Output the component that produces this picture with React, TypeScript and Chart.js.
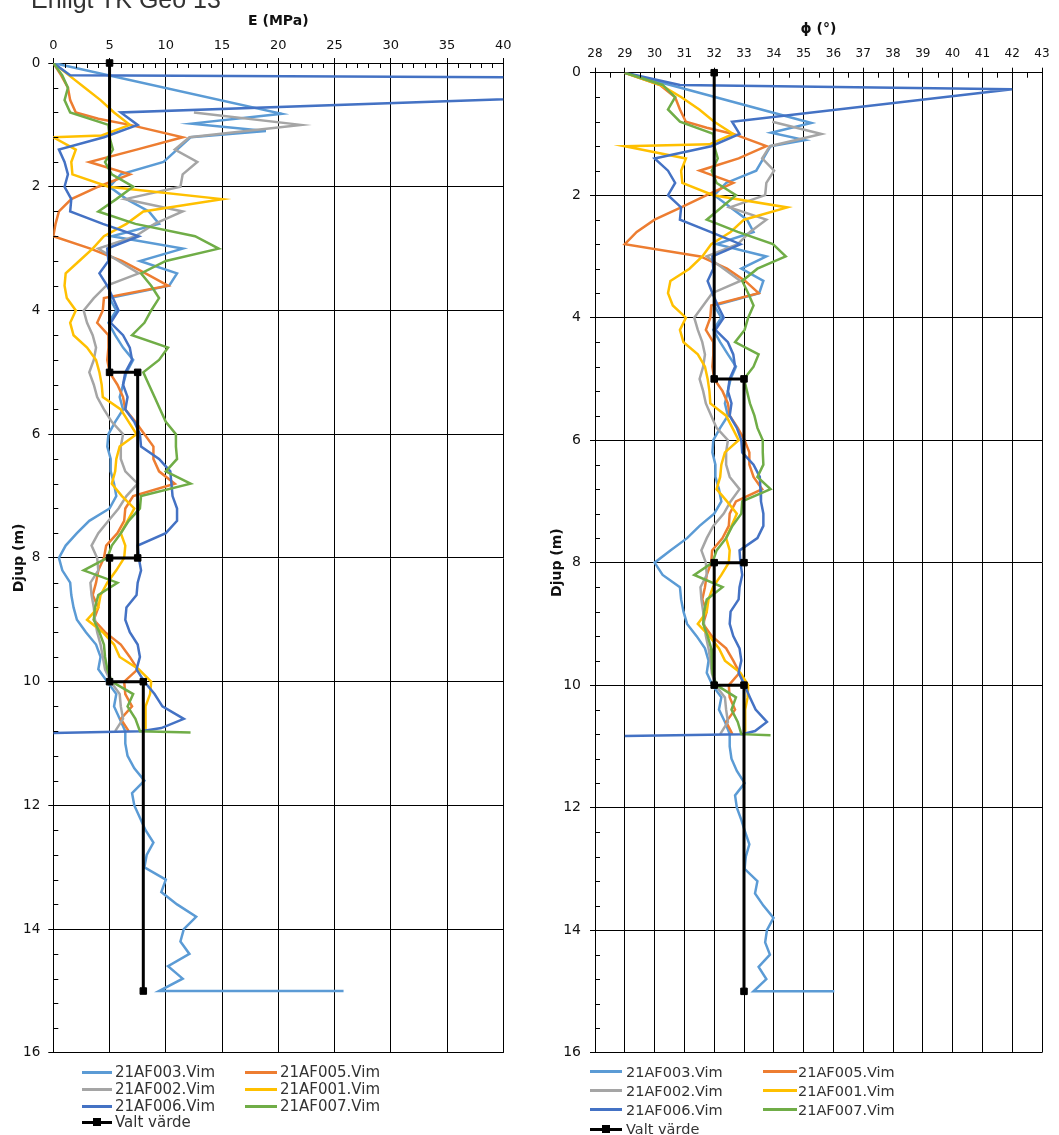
import React, { useEffect, useRef } from 'react';
import { Chart, registerables } from 'chart.js';

Chart.register(...registerables);
Chart.defaults.font.family = "'DejaVu Sans', Verdana, sans-serif";

// ---------------- data ----------------
const HEADING = 'Enligt TK Geo 13';

// 21AF003.Vim (light blue)
const DEPTH_003 = [0, 0.82, 0.98, 1.1, 1.2, 1.4, 1.6, 1.8, 2, 2.2, 2.4, 2.6, 2.8, 3, 3.2, 3.4, 3.6, 3.8, 4, 4.2, 4.4, 4.6, 4.8, 5, 5.2, 5.4, 5.6, 5.8, 6, 6.2, 6.4, 6.6, 6.8, 7, 7.2, 7.4, 7.6, 7.8, 8, 8.2, 8.4, 8.6, 8.8, 9, 9.2, 9.4, 9.6, 9.8, 10, 10.2, 10.4, 10.6, 10.8, 11, 11.2, 11.4, 11.6, 11.8, 12, 12.2, 12.4, 12.6, 12.8, 13, 13.2, 13.4, 13.6, 13.8, 14, 14.2, 14.4, 14.6, 14.8, 15, 15];
const E_003 = [0, 20.3, 12.3, 18.9, 12.2, 11.0, 9.8, 6.0, 5.0, 6.5, 8.5, 9.4, 5.2, 11.5, 7.7, 11.0, 10.3, 5.0, 5.6, 4.9, 5.5, 6.2, 7.1, 6.5, 6.2, 5.9, 6.2, 5.5, 4.9, 4.8, 5.1, 5.1, 5.4, 5.6, 5.0, 3.2, 2.1, 1.1, 0.5, 0.8, 1.5, 1.6, 1.8, 2.1, 2.9, 3.8, 4.2, 4.0, 4.8, 5.6, 5.4, 5.9, 6.4, 6.4, 6.6, 7.2, 8.1, 7.0, 7.2, 7.7, 8.2, 8.9, 8.3, 8.1, 10.0, 9.6, 11.0, 12.7, 11.6, 11.3, 12.1, 10.2, 11.5, 9.4, 25.8];
const PHI_003 = [29, 35.26, 33.91, 35.04, 33.89, 33.65, 33.41, 32.4, 32.0, 32.55, 33.1, 33.32, 32.08, 33.75, 32.91, 33.65, 33.51, 32.0, 32.24, 31.97, 32.2, 32.46, 32.73, 32.55, 32.46, 32.36, 32.46, 32.2, 31.97, 31.94, 32.04, 32.04, 32.16, 32.24, 32.0, 31.51, 31.09, 30.53, 30.0, 30.27, 30.85, 30.89, 30.97, 31.09, 31.41, 31.69, 31.81, 31.75, 31.94, 32.24, 32.16, 32.36, 32.52, 32.52, 32.58, 32.76, 33.02, 32.7, 32.76, 32.91, 33.04, 33.18, 33.06, 33.02, 33.45, 33.37, 33.65, 33.99, 33.77, 33.71, 33.87, 33.49, 33.75, 33.32, 36.03];

// 21AF005.Vim (orange)
const DEPTH_005 = [0, 0.2, 0.4, 0.6, 0.8, 0.9, 1, 1.2, 1.4, 1.6, 1.8, 2, 2.2, 2.4, 2.6, 2.8, 3, 3.2, 3.4, 3.6, 3.8, 4, 4.2, 4.4, 4.6, 4.8, 5, 5.2, 5.4, 5.6, 5.8, 6, 6.2, 6.4, 6.6, 6.8, 7, 7.2, 7.4, 7.6, 7.8, 8, 8.2, 8.4, 8.6, 8.8, 9, 9.2, 9.4, 9.6, 9.8, 10, 10.2, 10.4, 10.6, 10.8];
const E_005 = [0, 0.7, 1.3, 1.5, 2.0, 4.0, 6.8, 11.5, 7.4, 3.2, 6.8, 4.0, 1.6, 0.5, 0.2, 0, 3.3, 6.1, 8.2, 10.2, 4.5, 4.4, 3.9, 4.9, 4.9, 4.8, 5.0, 5.7, 6.2, 6.4, 7.3, 8.1, 8.9, 8.9, 9.4, 10.8, 7.1, 6.4, 6.3, 5.7, 4.7, 4.5, 4.0, 3.8, 3.5, 4.0, 3.6, 4.6, 6.0, 6.8, 7.5, 6.3, 6.4, 7.0, 6.0, 6.7];
const PHI_005 = [29, 30.18, 30.69, 30.85, 31.05, 31.75, 32.64, 33.75, 32.82, 31.51, 32.64, 31.75, 30.89, 30.0, 29.4, 29, 31.54, 32.43, 33.04, 33.49, 31.9, 31.87, 31.72, 31.97, 31.97, 31.94, 32.0, 32.28, 32.46, 32.52, 32.79, 33.02, 33.18, 33.18, 33.32, 33.61, 32.73, 32.52, 32.49, 32.28, 31.93, 31.9, 31.75, 31.69, 31.6, 31.75, 31.63, 31.92, 32.4, 32.64, 32.85, 32.49, 32.52, 32.7, 32.4, 32.61];

// 21AF002.Vim (grey)
const DEPTH_002 = [0.8, 1, 1.2, 1.4, 1.6, 1.8, 2, 2.2, 2.4, 2.6, 2.8, 3, 3.2, 3.4, 3.6, 3.8, 4, 4.2, 4.4, 4.6, 4.8, 5, 5.2, 5.4, 5.6, 5.8, 6, 6.2, 6.4, 6.6, 6.8, 7, 7.2, 7.4, 7.6, 7.8, 8, 8.2, 8.4, 8.6, 8.8, 9, 9.2, 9.4, 9.6, 9.8, 10, 10.2, 10.4, 10.6, 10.8];
const E_002 = [12.5, 22.0, 12.1, 10.8, 12.8, 11.5, 11.3, 6.4, 11.5, 9.0, 7.3, 4.0, 5.8, 7.6, 4.7, 3.6, 2.7, 3.0, 3.5, 3.8, 3.6, 3.2, 3.6, 3.9, 4.5, 5.2, 6.2, 6.0, 6.0, 6.4, 7.5, 6.5, 5.8, 4.9, 4.0, 3.4, 3.9, 4.0, 3.3, 3.4, 3.6, 3.7, 3.9, 4.2, 4.4, 4.6, 5.1, 5.9, 6.0, 6.2, 5.5];
const PHI_002 = [33.95, 35.6, 33.87, 33.61, 34.01, 33.75, 33.71, 32.52, 33.75, 33.2, 32.79, 31.75, 32.32, 32.88, 31.93, 31.63, 31.33, 31.45, 31.6, 31.69, 31.63, 31.51, 31.63, 31.72, 31.9, 32.08, 32.46, 32.4, 32.4, 32.52, 32.85, 32.55, 32.32, 31.97, 31.75, 31.57, 31.72, 31.75, 31.54, 31.57, 31.63, 31.66, 31.72, 31.81, 31.87, 31.92, 32.04, 32.36, 32.4, 32.46, 32.2];

// 21AF001.Vim (yellow)
const DEPTH_001 = [0, 0.2, 0.4, 0.6, 0.8, 1, 1.17, 1.2, 1.4, 1.6, 1.8, 2, 2.2, 2.4, 2.6, 2.8, 3, 3.2, 3.4, 3.6, 3.8, 4, 4.2, 4.4, 4.6, 4.8, 5, 5.2, 5.4, 5.6, 5.8, 6, 6.2, 6.4, 6.6, 6.8, 7, 7.2, 7.4, 7.6, 7.8, 8, 8.2, 8.4, 8.6, 8.8, 9, 9.2, 9.4, 9.6, 9.8, 10, 10.2, 10.4, 10.6, 10.8];
const E_001 = [0, 1.4, 2.8, 4.2, 5.4, 6.8, 4.3, 0, 2.0, 1.6, 1.7, 4.9, 15.0, 8.0, 6.5, 4.5, 3.5, 2.3, 1.1, 1.0, 1.2, 2.0, 1.5, 1.8, 3.0, 3.8, 4.1, 4.3, 4.4, 6.0, 6.7, 7.4, 5.9, 5.6, 5.5, 5.2, 6.1, 7.2, 6.6, 6.0, 6.4, 6.3, 5.6, 4.8, 4.2, 4.0, 3.0, 4.4, 5.4, 5.9, 7.6, 8.7, 8.6, 8.2, 8.2, 8.2];
const PHI_001 = [29.0, 30.2, 30.9, 31.5, 32.0, 32.64, 31.84, 29.0, 31.05, 30.89, 30.93, 31.97, 34.45, 33.0, 32.55, 31.9, 31.6, 31.17, 30.53, 30.45, 30.61, 31.05, 30.85, 30.97, 31.45, 31.69, 31.78, 31.84, 31.87, 32.4, 32.61, 32.82, 32.36, 32.24, 32.2, 32.08, 32.43, 32.76, 32.58, 32.4, 32.52, 32.49, 32.24, 31.96, 31.81, 31.75, 31.45, 31.84, 32.16, 32.36, 32.88, 33.14, 33.12, 33.04, 33.04, 33.04];

// 21AF006.Vim (dark blue)
const DEPTH_006 = [0, 0.2, 0.27, 0.8, 1, 1.2, 1.4, 1.6, 1.8, 2, 2.2, 2.4, 2.6, 2.8, 3, 3.2, 3.4, 3.6, 3.8, 4, 4.2, 4.4, 4.6, 4.8, 5, 5.2, 5.4, 5.6, 5.8, 6, 6.2, 6.4, 6.6, 6.8, 7, 7.2, 7.4, 7.6, 7.8, 8, 8.2, 8.4, 8.6, 8.8, 9, 9.2, 9.4, 9.6, 9.8, 10, 10.2, 10.4, 10.6, 10.75, 10.8, 10.83];
const E_006 = [0, 1.5, 90, 6.0, 7.5, 4.5, 0.5, 1.0, 1.3, 1.0, 1.6, 1.5, 4.4, 7.6, 4.8, 4.9, 4.1, 4.8, 5.3, 5.8, 5.1, 6.2, 6.8, 7.0, 6.4, 6.2, 6.6, 6.4, 7.2, 7.7, 7.8, 9.4, 10.4, 10.5, 10.6, 11.0, 11.0, 10.0, 7.5, 7.6, 7.8, 7.5, 7.4, 6.5, 6.4, 6.8, 7.5, 7.7, 7.4, 8.1, 9.0, 9.7, 11.6, 9.6, 7.8, 0];
const PHI_006 = [29, 30.85, 42.0, 32.6, 32.85, 31.9, 30.0, 30.45, 30.69, 30.45, 30.89, 30.85, 31.87, 32.88, 31.94, 31.97, 31.78, 31.94, 32.12, 32.32, 32.04, 32.46, 32.64, 32.7, 32.52, 32.46, 32.58, 32.52, 32.76, 32.91, 32.94, 33.32, 33.53, 33.55, 33.57, 33.65, 33.65, 33.45, 32.85, 32.88, 32.94, 32.85, 32.82, 32.55, 32.52, 32.64, 32.85, 32.91, 32.82, 33.02, 33.2, 33.39, 33.77, 33.37, 32.94, 29];

// 21AF007.Vim (green)
const DEPTH_007 = [0, 0.2, 0.4, 0.6, 0.8, 1, 1.2, 1.4, 1.6, 1.8, 2, 2.2, 2.4, 2.6, 2.8, 3, 3.2, 3.4, 3.6, 3.8, 4, 4.2, 4.4, 4.6, 4.8, 5, 5.2, 5.4, 5.6, 5.8, 6, 6.2, 6.4, 6.6, 6.8, 7, 7.2, 7.4, 7.6, 7.8, 8, 8.2, 8.4, 8.6, 8.8, 9, 9.2, 9.4, 9.6, 9.8, 10, 10.2, 10.4, 10.6, 10.8, 10.82];
const E_007 = [0, 0.8, 1.3, 1.0, 1.5, 4.9, 5.0, 5.3, 4.6, 5.2, 7.1, 5.6, 4.0, 7.3, 12.6, 14.7, 10.0, 7.8, 8.7, 9.4, 8.7, 8.1, 7.0, 10.2, 9.4, 8.0, 8.5, 9.0, 9.5, 10.0, 10.9, 10.9, 11.0, 10.0, 12.2, 7.8, 7.7, 6.7, 6.0, 5.2, 4.8, 2.7, 5.7, 4.0, 3.7, 3.6, 4.1, 4.5, 4.6, 4.8, 5.2, 7.1, 6.6, 7.3, 7.7, 12.2];
const PHI_007 = [29, 30.27, 30.69, 30.45, 30.85, 31.97, 32.0, 32.12, 31.92, 32.08, 32.73, 32.24, 31.75, 32.79, 33.97, 34.4, 33.45, 32.94, 33.14, 33.32, 33.14, 33.02, 32.7, 33.49, 33.32, 33.0, 33.1, 33.2, 33.35, 33.45, 33.63, 33.63, 33.65, 33.45, 33.89, 32.94, 32.91, 32.61, 32.4, 32.08, 31.94, 31.33, 32.28, 31.75, 31.66, 31.63, 31.78, 31.9, 31.92, 31.94, 32.08, 32.73, 32.58, 32.79, 32.91, 33.89];

// Valt värde (black step line)
const VALT_DEPTH = [0, 5, 5, 8, 8, 10, 10, 15];
const VALT_E = [5, 5, 7.5, 7.5, 5, 5, 8, 8];
const VALT_PHI = [32, 32, 33, 33, 32, 32, 33, 33];

const DEPTH_TICKS = { min: 0, max: 16, step: 2, minor: 0.4 };
const E_TICKS = { min: 0, max: 40, step: 5, minor: 1 };
const PHI_TICKS = { min: 28, max: 43, step: 1, minor: 0.5 };

const SERIES = [
  { label: '21AF003.Vim', color: '#5B9BD5', depth: DEPTH_003, e: E_003, phi: PHI_003 },
  { label: '21AF005.Vim', color: '#ED7D31', depth: DEPTH_005, e: E_005, phi: PHI_005 },
  { label: '21AF002.Vim', color: '#A5A5A5', depth: DEPTH_002, e: E_002, phi: PHI_002 },
  { label: '21AF001.Vim', color: '#FFC000', depth: DEPTH_001, e: E_001, phi: PHI_001 },
  { label: '21AF006.Vim', color: '#4472C4', depth: DEPTH_006, e: E_006, phi: PHI_006 },
  { label: '21AF007.Vim', color: '#70AD47', depth: DEPTH_007, e: E_007, phi: PHI_007 },
];
const VALT_LABEL = 'Valt värde';

// ---------------- helpers ----------------
const zip = (ds: number[], vs: number[]) => ds.map((d, i) => ({ x: vs[i], y: d }));

const minorTickPlugin = {
  id: 'minorTicks',
  afterDatasetsDraw(chart: any, _a: any, opts: any) {
    const { ctx, chartArea } = chart;
    const xs = chart.scales.x;
    const ys = chart.scales.y;
    ctx.save();
    ctx.strokeStyle = '#000';
    ctx.lineWidth = 1;
    ctx.beginPath();
    const nx = Math.round((xs.max - xs.min) / opts.xMinor);
    for (let i = 1; i < nx; i++) {
      const v = xs.min + i * opts.xMinor;
      const r = (v - xs.min) / opts.xMajor;
      if (Math.abs(r - Math.round(r)) < 1e-6) continue;
      const px = Math.round(xs.getPixelForValue(v)) + 0.5;
      ctx.moveTo(px, chartArea.top);
      ctx.lineTo(px, chartArea.top + 5);
    }
    const ny = Math.round((ys.max - ys.min) / opts.yMinor);
    for (let i = 1; i < ny; i++) {
      const v = ys.min + i * opts.yMinor;
      const r = v / opts.yMajor;
      if (Math.abs(r - Math.round(r)) < 1e-6) continue;
      const py = Math.round(ys.getPixelForValue(v)) + 0.5;
      ctx.moveTo(chartArea.left, py);
      ctx.lineTo(chartArea.left + 5, py);
    }
    ctx.stroke();
    ctx.restore();
  },
};

type PanelCfg = {
  left: number;
  width: number;
  height: number;
  key: 'e' | 'phi';
  valt: number[];
  xt: { min: number; max: number; step: number; minor: number };
  xTitle: string;
  yAxisW: number;
  xAxisH: number;
  padRight: number;
  xTitlePad: number;
  yTitlePad: number;
  xTickPad: number;
  yTickPad: number;
  xTickSize: number;
  yTickSize: number;
};

function Panel({ cfg }: { cfg: PanelCfg }) {
  const ref = useRef<HTMLCanvasElement>(null);
  useEffect(() => {
    if (!ref.current) return;
    const datasets: any[] = [
      {
        label: VALT_LABEL,
        data: zip(VALT_DEPTH, cfg.valt),
        showLine: true,
        borderColor: '#000',
        backgroundColor: '#000',
        borderWidth: 3,
        pointStyle: 'rect',
        pointRadius: 4.6,
        pointBorderWidth: 1,
        pointBorderColor: '#000',
        pointBackgroundColor: '#000',
        clip: false,
        order: 0,
      },
      ...SERIES.map((s, i) => ({
        label: s.label,
        data: zip(s.depth, s[cfg.key]),
        showLine: true,
        borderColor: s.color,
        backgroundColor: s.color,
        borderWidth: 2.5,
        pointRadius: 0,
        tension: 0,
        order: 10 - i,
      })),
    ];
    const chart = new Chart(ref.current, {
      type: 'scatter',
      data: { datasets },
      plugins: [minorTickPlugin as any],
      options: {
        responsive: false,
        maintainAspectRatio: false,
        animation: false,
        events: [],
        layout: { padding: { left: 0, top: 0, right: cfg.padRight, bottom: 14 } },
        plugins: {
          legend: { display: false },
          tooltip: { enabled: false },
          minorTicks: { xMinor: cfg.xt.minor, xMajor: cfg.xt.step, yMinor: DEPTH_TICKS.minor, yMajor: DEPTH_TICKS.step },
        } as any,
        scales: {
          x: {
            type: 'linear',
            position: 'top',
            min: cfg.xt.min,
            max: cfg.xt.max,
            ticks: { stepSize: cfg.xt.step, autoSkip: false, maxRotation: 0, padding: cfg.xTickPad, color: '#111', font: { size: cfg.xTickSize } },
            grid: { color: '#000', lineWidth: 1, tickLength: 5, drawTicks: true, tickColor: '#000' },
            border: { color: '#000', width: 1 },
            title: { display: true, text: cfg.xTitle, color: '#111', font: { size: 14, weight: 'bold' }, padding: { top: cfg.xTitlePad, bottom: 0 } },
            afterFit: (s: any) => { s.height = cfg.xAxisH; },
          },
          y: {
            type: 'linear',
            reverse: true,
            min: DEPTH_TICKS.min,
            max: DEPTH_TICKS.max,
            ticks: { stepSize: DEPTH_TICKS.step, autoSkip: false, padding: cfg.yTickPad, color: '#111', font: { size: cfg.yTickSize } },
            grid: { color: '#000', lineWidth: 1, tickLength: 5, drawTicks: true, tickColor: '#000' },
            border: { color: '#000', width: 1 },
            title: { display: true, text: 'Djup (m)', color: '#111', font: { size: 14, weight: 'bold' }, padding: { top: cfg.yTitlePad, bottom: 0 } },
            afterFit: (s: any) => { s.width = cfg.yAxisW; },
          },
        },
      } as any,
    });
    return () => chart.destroy();
  }, [cfg]);
  return (
    <canvas
      ref={ref}
      width={cfg.width}
      height={cfg.height}
      style={{ position: 'absolute', left: cfg.left, top: 0, width: cfg.width, height: cfg.height }}
    />
  );
}

type LegendCfg = { col1Line: number; col1LineW: number; col1Text: number; col2Line: number; col2LineW: number; col2Text: number; rows: number[]; fontSize: number };

function Legend({ cfg }: { cfg: LegendCfg }) {
  const items = [...SERIES.map((s) => ({ label: s.label, color: s.color, marker: false })), { label: VALT_LABEL, color: '#000', marker: true }];
  return (
    <>
      {items.map((it, i) => {
        const row = Math.floor(i / 2);
        const col = i % 2;
        const cy = cfg.rows[row];
        const lx = col === 0 ? cfg.col1Line : cfg.col2Line;
        const lw = col === 0 ? cfg.col1LineW : cfg.col2LineW;
        const tx = col === 0 ? cfg.col1Text : cfg.col2Text;
        return (
          <React.Fragment key={it.label}>
            <div style={{ position: 'absolute', left: lx, top: cy - 1.5, width: lw, height: 3, background: it.color }} />
            {it.marker && (
              <div style={{ position: 'absolute', left: lx + lw / 2 - 4, top: cy - 4, width: 8, height: 8, background: '#000' }} />
            )}
            <div
              style={{
                position: 'absolute',
                left: tx,
                top: cy - 10,
                height: 20,
                lineHeight: '20px',
                fontFamily: "'DejaVu Sans', Verdana, sans-serif",
                fontSize: cfg.fontSize,
                color: '#333',
                whiteSpace: 'nowrap',
              }}
            >
              {it.label}
            </div>
          </React.Fragment>
        );
      })}
    </>
  );
}

const LEFT_PANEL: PanelCfg = {
  left: 0, width: 530, height: 1069, key: 'e', valt: VALT_E, xt: E_TICKS, xTitle: 'E (MPa)',
  yAxisW: 53.3, xAxisH: 63, padRight: 26.7, xTitlePad: 13, yTitlePad: 10.5, xTickPad: 5, yTickPad: 8, xTickSize: 13, yTickSize: 13.5,
};
const RIGHT_PANEL: PanelCfg = {
  left: 530, width: 529, height: 1070, key: 'phi', valt: VALT_PHI, xt: PHI_TICKS, xTitle: 'ϕ (°)',
  yAxisW: 65, xAxisH: 72.7, padRight: 17, xTitlePad: 21, yTitlePad: 19, xTickPad: 7, yTickPad: 9, xTickSize: 12, yTickSize: 14,
};
const LEFT_LEGEND: LegendCfg = { col1Line: 82, col1LineW: 30, col1Text: 115, col2Line: 245, col2LineW: 32, col2Text: 280, rows: [1072, 1089, 1106, 1122], fontSize: 15 };
const RIGHT_LEGEND: LegendCfg = { col1Line: 590, col1LineW: 32, col1Text: 626, col2Line: 763, col2LineW: 34, col2Text: 798, rows: [1071.5, 1090.5, 1109.5, 1129], fontSize: 14.5 };

export default function App() {
  return (
    <div style={{ position: 'absolute', left: 0, top: 0, width: 1059, height: 1135, background: '#fff', overflow: 'hidden' }}>
      <Panel cfg={LEFT_PANEL} />
      <Panel cfg={RIGHT_PANEL} />
      <div
        style={{
          position: 'absolute', left: 31, top: -13.2, fontFamily: "'Liberation Sans', Arial, sans-serif",
          fontSize: 25, lineHeight: '25px', color: '#333', whiteSpace: 'nowrap',
        }}
      >
        {HEADING}
      </div>
      <Legend cfg={LEFT_LEGEND} />
      <Legend cfg={RIGHT_LEGEND} />
    </div>
  );
}
